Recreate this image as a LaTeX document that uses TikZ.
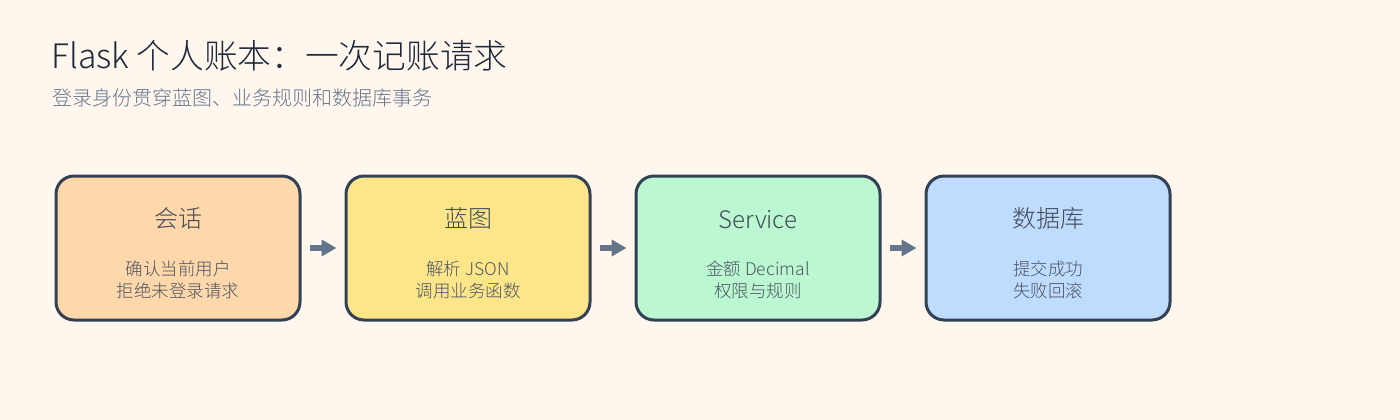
\documentclass[tikz,border=0pt]{standalone}
\usepackage{fontspec}
\IfFontExistsTF{Noto Sans CJK SC Light}{\setmainfont{Noto Sans CJK SC Light}}{\setmainfont{Noto Sans CJK SC}}
\usetikzlibrary{arrows.meta}
\definecolor{bgc}{HTML}{FFF7EE}
\definecolor{c1}{HTML}{FED7AA}
\definecolor{c2}{HTML}{FDE68A}
\definecolor{c3}{HTML}{BBF7D0}
\definecolor{c4}{HTML}{BFDBFE}
\definecolor{edgec}{HTML}{334155}
\definecolor{arrc}{HTML}{64748B}
\definecolor{titlec}{HTML}{1E293B}
\definecolor{subc}{HTML}{64748B}
\definecolor{bodyc}{HTML}{4B5563}
\tikzset{
  stagebox/.style={draw=edgec, line width=3, rounded corners=18, minimum width=244, minimum height=144, inner sep=0},
  stagetitle/.style={anchor=base, inner sep=0, text=titlec!85!white, font=\fontsize{24}{28}\selectfont},
  stagebody/.style={anchor=base, inner sep=0, text=bodyc, font=\fontsize{17.5}{21}\selectfont},
  flowarrow/.style={draw=arrc, line width=6, -{Triangle[length=15,width=16]}},
}
\begin{document}
\begin{tikzpicture}[x=1pt,y=-1pt]
\fill[bgc] (0,0) rectangle (1400,420);
\useasboundingbox (0,0) rectangle (1400,420);
\node[anchor=base west, inner sep=0, text=titlec, font=\fontsize{33.7}{40}\selectfont] (title) at (51,69) {Flask 个人账本：一次记账请求};
\node[anchor=base west, inner sep=0, text=subc, font=\fontsize{20}{24}\selectfont] (subtitle) at (52,105) {登录身份贯穿蓝图、业务规则和数据库事务};

\node[stagebox, fill=c1] (b1) at (178,248) {};
\node[stagebox, fill=c2] (b2) at (468,248) {};
\node[stagebox, fill=c3] (b3) at (758,248) {};
\node[stagebox, fill=c4] (b4) at (1048,248) {};

\node[stagetitle] (t1) at (178,227) {会话};
\node[stagebody] (l1a) at (178,275) {确认当前用户};
\node[stagebody] (l1b) at (178,297) {拒绝未登录请求};

\node[stagetitle] (t2) at (468,227) {蓝图};
\node[stagebody] (l2a) at (468,275) {解析 JSON};
\node[stagebody] (l2b) at (468,297) {调用业务函数};

\node[stagetitle] (t3) at (758,228) {Service};
\node[stagebody] (l3a) at (758,275) {金额 Decimal};
\node[stagebody] (l3b) at (758,297) {权限与规则};

\node[stagetitle] (t4) at (1048,227) {数据库};
\node[stagebody] (l4a) at (1048,275) {提交成功};
\node[stagebody] (l4b) at (1048,297) {失败回滚};

\draw[flowarrow] ([xshift=8]b1.east) -- ([xshift=-8]b2.west);
\draw[flowarrow] ([xshift=8]b2.east) -- ([xshift=-8]b3.west);
\draw[flowarrow] ([xshift=8]b3.east) -- ([xshift=-8]b4.west);
\end{tikzpicture}
\end{document}
